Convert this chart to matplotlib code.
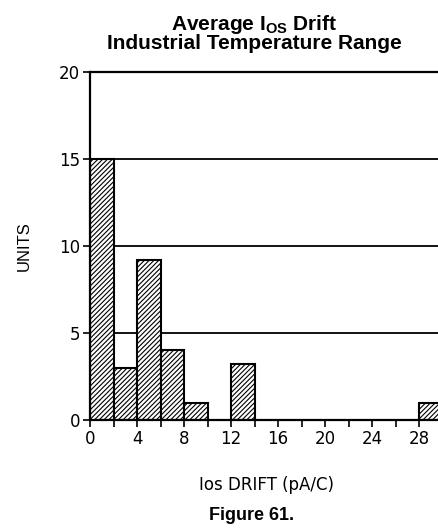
import numpy as np
import matplotlib
matplotlib.use("Agg")
import matplotlib.pyplot as plt

# histogram bins (pA/C) and counts
bin_left = [0, 2, 4, 6, 8, 12, 28]
units = [15, 3, 9.2, 4, 1, 3.2, 1]
bin_width = 2
x_ticks = np.arange(0, 31, 2)
x_labels = [str(t) if t % 4 == 0 else "" for t in x_ticks]
y_ticks = [0, 5, 10, 15, 20]

plt.rcParams["hatch.linewidth"] = 0.8

fig = plt.figure(figsize=(4.38, 5.31), dpi=100)
ax = fig.add_axes([0.2055, 0.209, 0.805, 0.655])

for y in y_ticks[1:-1]:
    ax.axhline(y, color="black", lw=1.3, zorder=1)

ax.bar(bin_left, units, width=bin_width, align="edge", facecolor="white",
       edgecolor="black", hatch="///////", lw=1.5, zorder=2)

ax.set_xlim(0, 30)
ax.set_ylim(0, 20)
ax.set_xticks(x_ticks)
ax.set_xticklabels(x_labels)
ax.set_yticks(y_ticks)
ax.tick_params(direction="out", length=5, width=1.2, labelsize=12, pad=2)
for s in ax.spines.values():
    s.set_linewidth(1.6)

ax.set_xlabel("Ios DRIFT (pA/C)", fontsize=12, labelpad=20)
ax.set_ylabel("UNITS", fontsize=12, family="Liberation Sans", labelpad=20)

fig.text(0.58, 0.938, "Average I$_{\\mathregular{OS}}$ Drift\nIndustrial Temperature Range",
         ha="center", va="center", fontsize=15, fontweight="bold",
         family="Liberation Sans", linespacing=0.85)
fig.text(0.575, 0.03, "Figure 61.", ha="center", va="center", fontsize=13,
         fontweight="bold", family="Liberation Sans")

fig.savefig("out.png", dpi=100)
